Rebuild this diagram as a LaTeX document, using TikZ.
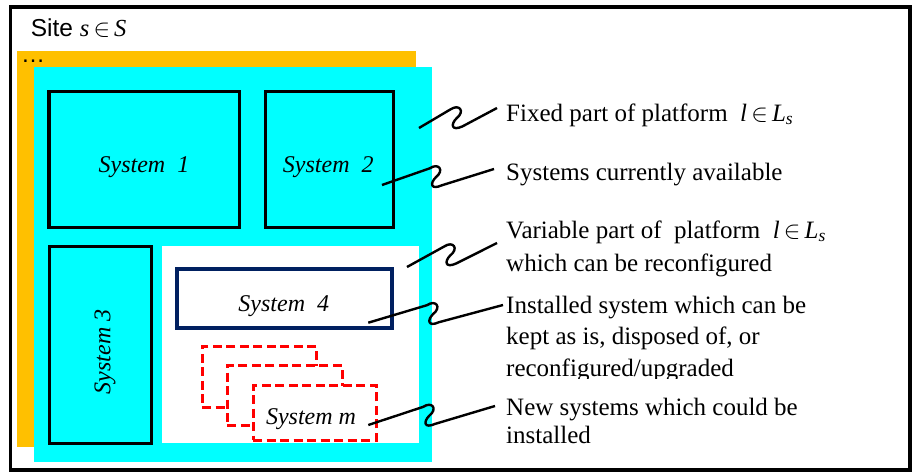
\documentclass[tikz,border=0pt]{standalone}
\usepackage{amsmath}
\usepackage{fontspec}
\setmainfont{Liberation Serif}
\setsansfont{Liberation Sans}
\usepackage{tikz}
\usetikzlibrary{calc}
\usepackage{xcolor}

\definecolor{siteorange}{RGB}{255,192,0}
\definecolor{platcyan}{RGB}{0,255,255}
\definecolor{sysnavy}{RGB}{0,32,96}

\tikzset{
    sysbox/.style={rectangle, draw=black, line width=3.5pt, fill=platcyan, inner sep=0pt},
    newbox/.style={rectangle, draw=red, line width=3pt, dash pattern=on 9pt off 4.5pt, fill=white, inner sep=0pt},
    systext/.style={font=\fontsize{24}{28}\selectfont\itshape, inner sep=0pt, anchor=base},
    desc/.style={font=\fontsize{25}{32}\selectfont, align=left, inner sep=0pt, anchor=base west},
    squiggle/.style={line width=2.4pt, line join=round, to path={
        let \p1=($(\tikztostart)!0.48!(\tikztotarget)$) in
        -- ($(\p1)+(-6,-9)$)
        .. controls ($(\p1)+(3,-15)$) and ($(\p1)+(9,-7)$) .. (\p1)
        .. controls ($(\p1)+(-6,6)$) and ($(\p1)+(-5,13)$) .. ($(\p1)+(6,8)$)
        -- (\tikztotarget)}}
}

\begin{document}
\begin{tikzpicture}[x=1pt, y=-1pt]
    \useasboundingbox (0,0) rectangle (916,474);
    \fill[white] (0,0) rectangle (916,474);

    % Site frame
    \draw[line width=3.5pt] (10.7,6.8) rectangle (910,470);
    \node[anchor=base west, inner sep=0pt, font=\sffamily\fontsize{24.5}{28}\selectfont] (site) at (30.7,36.7) {Site {\rmfamily\itshape s}\,$\in$\,{\rmfamily\itshape S}};

    % Other platforms behind, then platform l
    \fill[siteorange] (17.3,50.7) rectangle (416,446.5);
    \node[anchor=base west, inner sep=0pt, font=\sffamily\fontsize{24}{28}\selectfont] (dots) at (21,62) {…};
    \fill[platcyan] (34,67.3) rectangle (432,462);
    \fill[white] (162,245.7) rectangle (419,442.7);

    % Systems currently installed
    \node[sysbox, minimum width=190.7pt, minimum height=136pt] (sys1) at (144.35,159.3) {};
    \node[sysbox, minimum width=128.4pt, minimum height=136pt] (sys2) at (329.5,159.3) {};
    \node[sysbox, minimum width=102.2pt, minimum height=197pt] (sys3) at (100.4,345.2) {};
    \node[sysbox, draw=sysnavy, line width=4pt, fill=white, minimum width=215.3pt, minimum height=58.2pt] (sys4) at (284.65,298.4) {};

    \node[systext] (sys1text) at (144,172.7) {System~~1};
    \node[systext] (sys2text) at (328.3,172.7) {System~~2};
    \node[systext, anchor=center, rotate=90] (sys3text) at (105,351.7) {System 3};
    \node[systext] (sys4text) at (283.8,311.7) {System~~4};

    % New systems
    \foreach \i/\cx/\cy/\w/\h in {a/259.4/376.85/114.8/60.3, b/284.8/395.7/115/60, c/314.7/412.9/123/54.8}
        \node[newbox, minimum width=\w pt, minimum height=\h pt] (new\i) at (\cx,\cy) {};
    \node[systext] (newtext) at (311,424) {System m};

    % Descriptions (multi-line ones sit on their last baseline)
    \node[desc] (fixed) at (506,121) {Fixed part of platform\enspace{\itshape l}\,$\in$\,{\itshape L\textsubscript{s}}};
    \node[desc] (avail) at (506,180) {Systems currently available};
    \node[desc, font=\fontsize{25}{33}\selectfont] (variable) at (506,271) {Variable part of\enspace platform\enspace{\itshape l}\,$\in$\,{\itshape L\textsubscript{s}}\\which can be reconfigured};
    \begin{scope}
        \clip (500,280) rectangle (900,378);
        \node[desc, font=\fontsize{25}{31.5}\selectfont] (installed) at (506,376) {Installed system which can be\\kept as is, disposed of, or\\reconfigured/upgraded};
    \end{scope}
    \node[desc, font=\fontsize{25}{28}\selectfont] (new) at (506,443) {New systems which could be\\installed};

    % Squiggly pointers
    \foreach \name/\sx/\sy/\ex/\ey in {fixed/419/128/-9/-13, avail/382/185/-12/-11, variable/407/267/-9/-28, installed/368.3/322.7/-3/-71, new/368.3/425/-11/-37} {
        \coordinate (\name-pt) at (\sx,\sy);
        \coordinate (\name-end) at ($(\name.base west)+(\ex,\ey)$);
        \draw[squiggle] (\name-pt) to (\name-end);
    }
\end{tikzpicture}
\end{document}
